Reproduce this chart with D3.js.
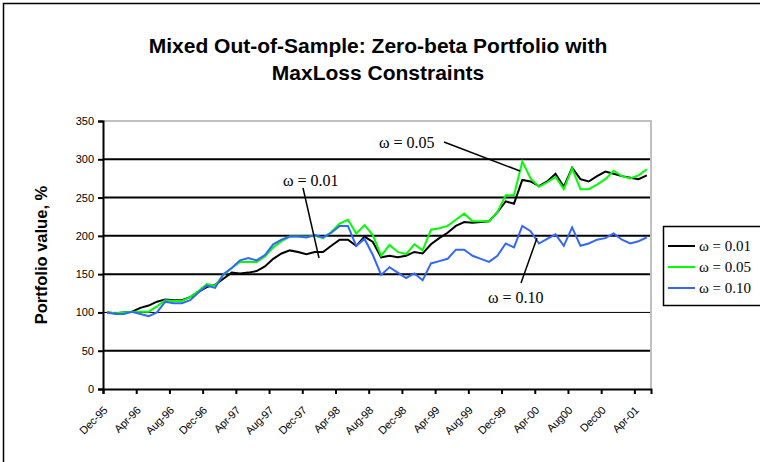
<!DOCTYPE html>
<html>
<head>
<meta charset="utf-8">
<script src="https://cdn.jsdelivr.net/npm/d3@7"></script>
<style>
  html, body { margin: 0; padding: 0; background: #fff; }
  svg { display: block; }
</style>
</head>
<body>
<svg id="chart" width="760" height="462"></svg>
<script>
// ---- Data (monthly, Dec-95 .. May-01) ----
const startMonth = new Date(1995, 11, 1);
const nMonths = 66;
const tickLabels = ["Dec-95","Apr-96","Aug-96","Dec-96","Apr-97","Aug-97","Dec-97","Apr-98","Aug-98","Dec-98","Apr-99","Aug-99","Dec-99","Apr-00","Aug00","Dec00","Apr-01"];
const yTicks = [0, 50, 100, 150, 200, 250, 300, 350];
const seriesNames = ["ω = 0.01", "ω = 0.05", "ω = 0.10"];
const omega001 = [100,99,100,101,106,109,114,117,116,116,120,127,133,136,144,152,151,152,154,160,170,177,181,179,176,179,179,187,195,195,187,199,192,172,174,172,174,179,177,189,197,204,213,218,217,218,219,231,245,242,273,271,265,271,281,264,289,274,271,278,284,281,278,276,274,279];
const omega005 = [100,99,100,101,101,101,108,116,115,115,120,128,137,135,149,158,166,166,166,173,185,193,199,199,199,200,197,205,216,221,203,214,201,174,188,179,176,189,181,208,210,213,221,229,219,219,219,231,253,253,297,275,264,270,277,261,288,261,261,267,274,285,278,275,279,287];
const omega010 = [100,98,98,101,98,95,100,114,112,112,116,126,135,132,150,158,168,171,168,175,189,195,199,199,198,201,198,204,213,213,187,196,175,149,159,152,145,151,142,164,167,170,182,182,174,170,166,174,190,185,213,206,190,196,202,187,211,187,190,195,197,203,195,190,193,198];
const seriesColors = ["#000000", "#00ff00", "#3366ff"];

const months = d3.timeMonth.range(startMonth, d3.timeMonth.offset(startMonth, nMonths));
const allSeries = [omega001, omega005, omega010];

const svg = d3.select("#chart");

// outer chart border
svg.append("rect").attr("x", 3.5).attr("y", 3.5).attr("width", 820).attr("height", 520)
  .attr("fill", "#fff").attr("stroke", "#000").attr("stroke-width", 1.5);

// plot area
const plot = { left: 103, right: 651, top: 121, bottom: 389 };
const x = d3.scaleLinear().domain([0, nMonths]).range([plot.left, plot.right]);
const y = d3.scaleLinear().domain([0, 350]).range([plot.bottom, plot.top]);

// title
const title = svg.append("text").attr("x", 378).attr("text-anchor", "middle")
  .attr("font-family", "'Liberation Sans', Arial, sans-serif").attr("font-weight", "bold")
  .attr("font-size", 21).attr("fill", "#000");
title.append("tspan").attr("x", 378).attr("y", 53).text("Mixed Out-of-Sample: Zero-beta Portfolio with");
title.append("tspan").attr("x", 378).attr("y", 80).text("MaxLoss Constraints");

// gridlines
svg.append("g").selectAll("line").data(yTicks.filter(v => v > 0 && v < 350)).join("line")
  .attr("x1", plot.left).attr("x2", plot.right)
  .attr("y1", d => y(d)).attr("y2", d => y(d))
  .attr("stroke", "#000").attr("stroke-width", d => d === 100 ? 1 : 2);

// plot border top/right (gray)
svg.append("path")
  .attr("d", `M${plot.left},${y(350)}H${plot.right}V${plot.bottom}`)
  .attr("fill", "none").attr("stroke", "#c0c0c0").attr("stroke-width", 2);

// y axis
const yAxis = d3.axisLeft(y).tickValues(yTicks).tickSize(5).tickPadding(4).tickFormat(d3.format("d"));
const gy = svg.append("g").attr("transform", `translate(${plot.left},0)`).call(yAxis);
gy.select(".domain").attr("stroke", "#000").attr("stroke-width", 2);
gy.selectAll(".tick line").attr("stroke", "#000").attr("stroke-width", 2);
gy.selectAll(".tick text").attr("font-family", "'Liberation Sans', Arial, sans-serif")
  .attr("font-size", 11).attr("fill", "#000");

// x axis
const tickIdx = tickLabels.map((_, i) => i * 4);
const xAxis = d3.axisBottom(x).tickValues(tickIdx).tickSize(5).tickFormat("");
const gx = svg.append("g").attr("transform", `translate(0,${plot.bottom})`).call(xAxis);
gx.select(".domain").attr("stroke", "#000").attr("stroke-width", 2);
gx.selectAll(".tick line").attr("stroke", "#000").attr("stroke-width", 2);

svg.append("g").selectAll("text").data(tickLabels).join("text")
  .attr("transform", (d, i) => `translate(${x(tickIdx[i] + 0.5) + 1},${plot.bottom + 22}) rotate(-45)`)
  .attr("text-anchor", "end")
  .attr("font-family", "'Liberation Sans', Arial, sans-serif")
  .attr("font-size", 11).attr("letter-spacing", -0.2).attr("fill", "#000")
  .text(d => d);

// y axis title
svg.append("text")
  .attr("transform", `translate(47,255) rotate(-90)`)
  .attr("text-anchor", "middle")
  .attr("font-family", "'Liberation Sans', Arial, sans-serif").attr("font-weight", "bold")
  .attr("font-size", 16.5).attr("fill", "#000")
  .text("Portfolio value, %");

// lines
const line = d3.line().x((d, i) => x(i + 0.5)).y(d => y(d));
svg.append("g").selectAll("path").data(allSeries).join("path")
  .attr("d", d => line(d))
  .attr("fill", "none")
  .attr("stroke", (d, i) => seriesColors[i])
  .attr("stroke-width", 2)
  .attr("stroke-linejoin", "miter");

// annotations
const serif = "'Liberation Serif', 'Times New Roman', serif";
const ann = [
  { text: seriesNames[0], tx: 283, ty: 186, x1: 303, y1: 188, x2: 319, y2: 258 },
  { text: seriesNames[1], tx: 379, ty: 148, x1: 444, y1: 142, x2: 520, y2: 171 },
  { text: seriesNames[2], tx: 488, ty: 303, x1: 521, y1: 283, x2: 537, y2: 238 }
];
const ga = svg.append("g");
ga.selectAll("line").data(ann).join("line")
  .attr("x1", d => d.x1).attr("y1", d => d.y1).attr("x2", d => d.x2).attr("y2", d => d.y2)
  .attr("stroke", "#000").attr("stroke-width", 1.5);
ga.selectAll("text").data(ann).join("text")
  .attr("x", d => d.tx).attr("y", d => d.ty)
  .attr("font-family", serif).attr("font-size", 16).attr("fill", "#000")
  .text(d => d.text);

// legend
const lg = svg.append("g");
lg.append("rect").attr("x", 663.5).attr("y", 226.5).attr("width", 120).attr("height", 79)
  .attr("fill", "#fff").attr("stroke", "#000").attr("stroke-width", 1.5);
const lgItems = lg.selectAll("g.item").data(seriesNames).join("g")
  .attr("transform", (d, i) => `translate(0,${246 + i * 21})`);
lgItems.append("line").attr("x1", 668).attr("x2", 695).attr("y1", 0).attr("y2", 0)
  .attr("stroke", (d, i) => seriesColors[i]).attr("stroke-width", 2);
lgItems.append("text").attr("x", 699).attr("y", 5)
  .attr("font-family", serif).attr("font-size", 15).attr("fill", "#000")
  .text(d => d);
</script>
</body>
</html>
